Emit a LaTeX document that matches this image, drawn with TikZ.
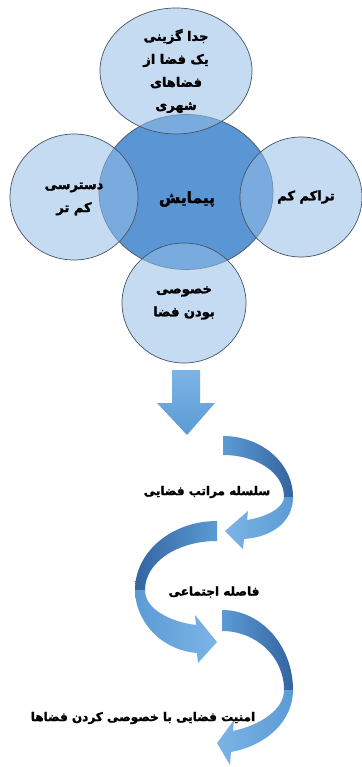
\documentclass[tikz,border=0pt]{standalone}
\usepackage{fontspec}
\newfontfamily\fa[Script=Arabic,BoldFont={DejaVu Sans Bold},BoldFeatures={FakeBold=2}]{DejaVu Sans}
\TeXXeTstate=1
\usetikzlibrary{shapes.geometric}
\definecolor{centerblue}{RGB}{90,150,211}
\definecolor{outerblue}{RGB}{150,190,232}
\definecolor{edgegray}{RGB}{70,85,100}
\definecolor{arrowblue}{RGB}{91,155,213}
\definecolor{arrowdark}{RGB}{52,100,160}
\definecolor{arrowlight}{RGB}{125,180,230}
\newcommand\rtl[1]{\beginR #1\endR}
\begin{document}
\begin{tikzpicture}[x=1pt,y=-1pt,
  bubble/.style={ellipse, draw=edgegray, line width=0.7pt, inner sep=0pt, align=center,
    font=\fa\bfseries\fontsize{13}{23}\selectfont},
  outerbub/.style={bubble, fill=outerblue, fill opacity=0.55, text opacity=1},
  centerbub/.style={bubble, fill=centerblue},
  bubtext/.style={align=center, inner sep=0pt, font=\fa\bfseries\fontsize{13}{23}\selectfont},
  label/.style={font=\fa\bfseries\fontsize{12}{14}\selectfont, inner sep=0pt},
  backband/.style={draw=none},
  frontband/.style={draw=none}]
\useasboundingbox (0,0) rectangle (361,767);
\fill[white] (0,0) rectangle (361,767);
% central bubble
\node[centerbub, minimum width=174pt, minimum height=155pt] (center) at (186,192) {};
% outer bubbles
\node[outerbub, minimum width=152pt, minimum height=126pt] (top) at (176,71)
  {\rtl{جدا گزینی}\\\rtl{یک فضا از}\\\rtl{فضاهای}\\\rtl{شهری}};
\node[outerbub, minimum width=128pt, minimum height=126pt] (left) at (74,197) {};
\node[outerbub, minimum width=122pt, minimum height=120pt] (right) at (301,197) {};
\node[outerbub, minimum width=124pt, minimum height=120pt] (bottom) at (184,303)
  {\rtl{خصوصی}\\\rtl{بودن فضا}};
\node[inner sep=0pt, font=\fa\bfseries\fontsize{15.5}{18}\selectfont] (centertext) at (187,199) {\rtl{پیمایش}};
\node[bubtext] (lefttext) at (74,199) {\rtl{دسترسی}\\\rtl{کم تر}};
\node[bubtext] (righttext) at (306,197) {\rtl{تراکم کم}};
% big down arrow
\path[top color=arrowlight, bottom color=arrowblue]
  (172,370) -- (200,370) -- (200,403) -- (215,403) -- (187,435) -- (157,403) -- (172,403) -- cycle;
% curved arrow 1
\path[backband, left color=arrowblue, right color=arrowdark]
  (223,436) .. controls (261.7,436) and (293,463.3) .. (293,497) -- (284,497)
  .. controls (284,472.7) and (256.7,455) .. (223,455) -- cycle;
\path[frontband, left color=arrowlight, right color=arrowblue]
  (293,497) .. controls (293,522) and (272,537) .. (244,539) -- (243,549) -- (225,531)
  -- (248,511) -- (247,520) .. controls (266,517) and (284,508) .. (284,497) -- cycle;
% curved arrow 2
\path[backband, left color=arrowdark, right color=arrowblue]
  (217,521) .. controls (171.7,521) and (135,551.9) .. (135,590) -- (145,590)
  .. controls (145,562.4) and (177.2,541) .. (217,541) -- cycle;
\path[frontband, left color=arrowblue, right color=arrowlight]
  (135,590) .. controls (135,620) and (160,650) .. (197,653) -- (198,663) -- (217,642)
  -- (195,615) -- (196,625) .. controls (172,622) and (145,610) .. (145,590) -- cycle;
% curved arrow 3
\path[backband, left color=arrowblue, right color=arrowdark]
  (222,610) .. controls (261.2,610) and (293,645.8) .. (293,690) -- (284,690)
  .. controls (284,656.9) and (256.2,631) .. (222,631) -- cycle;
\path[frontband, left color=arrowlight, right color=arrowblue]
  (293,690) .. controls (293,720) and (268,745) .. (231,752) -- (230,765) -- (217,743)
  -- (234,720) -- (233,731) .. controls (260,725) and (284,710) .. (284,690) -- cycle;
% labels
\node[label] (l1) at (207,492) {\rtl{سلسله مراتب فضایی}};
\node[label] (l2) at (214,592) {\rtl{فاصله اجتماعی}};
\node[label] (l3) at (143,718) {\rtl{امنیت فضایی با خصوصی کردن فضاها}};
\end{tikzpicture}
\end{document}
